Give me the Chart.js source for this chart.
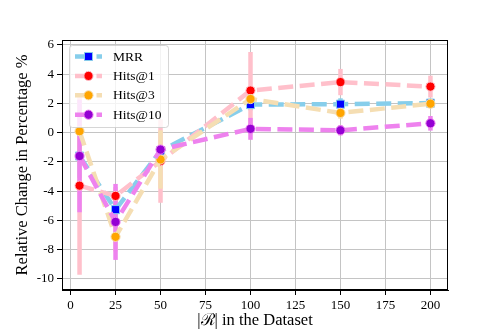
<!DOCTYPE html>
<html>
<head>
<meta charset="utf-8">
<script src="https://cdn.jsdelivr.net/npm/chart.js@4.4.1/dist/chart.umd.min.js"></script>
<style>
  html, body { margin: 0; padding: 0; background: #fff; }
  #wrap { width: 498px; height: 332px; }
</style>
</head>
<body>
<div id="wrap"><canvas id="chart" width="498" height="332"></canvas></div>
<script>
// data
const xValues = [5, 25, 50, 100, 150, 200];
const mrr    = [-1.6, -5.27, -1.25, 1.92, 1.95, 2.02];
const hits1  = [-3.63, -4.33, -1.95, 2.88, 3.46, 3.15];
const hits3  = [0.1, -7.13, -1.84, 2.3, 1.35, 1.98];
const hits10 = [-1.6, -6.11, -1.16, 0.26, 0.16, 0.64];

// error bar half-widths
const errMrr    = [1.5, 0.6, 0.4, 0.4, 0.4, 0.3];
const errHits1  = [6.1, 0.6, 2.85, 2.64, 0.9, 0.75];
const errHits3  = [2.0, 1.0, 2.0, 0.6, 0.4, 0.3];
const errHits10 = [3.85, 2.6, 0.3, 0.75, 0.35, 0.5];

const xTicks = [0, 25, 50, 75, 100, 125, 150, 175, 200];
const yTicks = [-10, -8, -6, -4, -2, 0, 2, 4, 6];

const SERIF = '"Liberation Serif", "DejaVu Serif", serif';

const series = [
  { label: 'MRR',     vals: mrr,    err: errMrr,    line: '#87ceeb', mark: '#0000ff', style: 'rect' },
  { label: 'Hits@1',  vals: hits1,  err: errHits1,  line: '#ffc0cb', mark: '#ff0000', style: 'circle' },
  { label: 'Hits@3',  vals: hits3,  err: errHits3,  line: '#f5deb3', mark: '#ffa500', style: 'circle' },
  { label: 'Hits@10', vals: hits10, err: errHits10, line: '#ee82ee', mark: '#9400d3', style: 'circle' }
];

const LW = 4.5;
const DASH = [15, 6.5];

function pointRadius(s) {
  return s.style === 'rect' ? 5.7 : 4.6;
}

// error bars under all the lines
const errorBars = {
  id: 'errorBars',
  beforeDatasetsDraw(chart) {
    const { ctx, chartArea, scales } = chart;
    ctx.save();
    ctx.beginPath();
    ctx.rect(chartArea.left, chartArea.top, chartArea.width, chartArea.height);
    ctx.clip();
    ctx.lineWidth = LW;
    ctx.lineCap = 'butt';
    series.forEach(s => {
      ctx.strokeStyle = s.line;
      xValues.forEach((xv, i) => {
        const px = scales.x.getPixelForValue(xv);
        ctx.beginPath();
        ctx.moveTo(px, scales.y.getPixelForValue(s.vals[i] + s.err[i]));
        ctx.lineTo(px, scales.y.getPixelForValue(s.vals[i] - s.err[i]));
        ctx.stroke();
      });
    });
    ctx.restore();
  }
};

// frame + legend box like matplotlib
const frameAndLegend = {
  id: 'frameAndLegend',
  afterDraw(chart) {
    const { ctx, chartArea } = chart;
    ctx.save();
    ctx.strokeStyle = '#000';
    ctx.lineWidth = 1;
    ctx.strokeRect(chartArea.left + 0.5, chartArea.top + 0.5, chartArea.width - 1, chartArea.height - 1);

    // legend
    const bx = 69, by = 45, bw = 99, bh = 82, r = 3;
    ctx.beginPath();
    ctx.roundRect(bx + 0.5, by + 0.5, bw, bh, r);
    ctx.fillStyle = 'rgba(255,255,255,0.8)';
    ctx.fill();
    ctx.strokeStyle = 'rgba(204,204,204,0.8)';
    ctx.lineWidth = 1;
    ctx.stroke();

    ctx.font = '13.5px ' + SERIF;
    ctx.textBaseline = 'middle';
    ctx.textAlign = 'left';
    series.forEach((s, i) => {
      const cy = 56.5 + i * 19.4;
      ctx.save();
      ctx.strokeStyle = s.line;
      ctx.lineWidth = LW;
      ctx.setLineDash(DASH);
      ctx.beginPath();
      ctx.moveTo(75, cy);
      ctx.lineTo(102, cy);
      ctx.stroke();
      ctx.restore();
      ctx.setLineDash([]);
      ctx.fillStyle = s.mark;
      ctx.strokeStyle = s.line;
      ctx.lineWidth = 1;
      const rr = pointRadius(s);
      ctx.beginPath();
      if (s.style === 'rect') {
        const h = rr * Math.SQRT1_2;
        ctx.rect(88.5 - h, cy - h, 2 * h, 2 * h);
      } else {
        ctx.arc(88.5, cy, rr, 0, Math.PI * 2);
      }
      ctx.fill();
      ctx.stroke();
      ctx.fillStyle = '#000';
      ctx.fillText(s.label, 113, cy + 0.5);
    });
    ctx.restore();
  }
};

const datasets = series.map((s, k) => ({
  label: s.label,
  data: xValues.map((xv, i) => ({ x: xv, y: s.vals[i] })),
  borderColor: s.line,
  borderWidth: LW,
  borderDash: DASH,
  borderCapStyle: 'butt',
  pointStyle: s.style,
  pointRadius: pointRadius(s),
  pointBackgroundColor: s.mark,
  pointBorderColor: s.line,
  pointBorderWidth: 1,
  tension: 0,
  fill: false,
  order: series.length - k
}));

new Chart(document.getElementById('chart'), {
  type: 'line',
  data: { datasets },
  options: {
    responsive: false,
    devicePixelRatio: 1,
    animation: false,
    layout: { padding: { top: 40, right: 50, left: 0, bottom: 0 } },
    plugins: {
      legend: { display: false },
      tooltip: { enabled: false }
    },
    scales: {
      x: {
        type: 'linear',
        min: -4.75,
        max: 209.75,
        afterBuildTicks: s => { s.ticks = xTicks.map(v => ({ value: v })); },
        afterFit: s => { s.height = 42; },
        ticks: {
          color: '#000',
          font: { family: SERIF, size: 13 },
          padding: 3,
          maxRotation: 0,
          callback: v => String(v)
        },
        grid: { color: '#c4c4c4', lineWidth: 1, tickColor: '#000', tickLength: 5 },
        border: { color: '#000', width: 1 },
        title: {
          display: true,
          text: '|\u211B| in the Dataset',
          color: '#000',
          font: { family: SERIF, size: 16.5 },
          padding: { top: 0, bottom: 1 }
        }
      },
      y: {
        type: 'linear',
        min: -10.77,
        max: 6.34,
        afterBuildTicks: s => { s.ticks = yTicks.map(v => ({ value: v })); },
        afterFit: s => { s.width = 62; },
        ticks: {
          color: '#000',
          font: { family: SERIF, size: 13 },
          padding: 3,
          callback: v => String(v)
        },
        grid: { color: '#c4c4c4', lineWidth: 1, tickColor: '#000', tickLength: 5 },
        border: { color: '#000', width: 1 },
        title: {
          display: true,
          text: 'Relative Change in Percentage %',
          color: '#000',
          font: { family: SERIF, size: 16.5 },
          padding: { top: 13, bottom: 0 }
        }
      }
    }
  },
  plugins: [errorBars, frameAndLegend]
});
</script>
</body>
</html>
